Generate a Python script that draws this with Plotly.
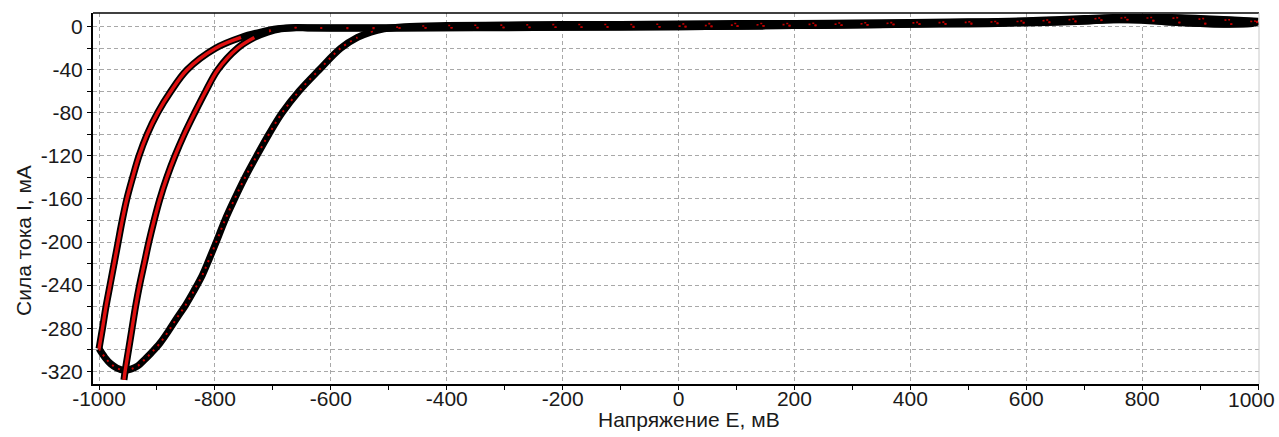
import numpy as np
import plotly.graph_objects as go

# ---------------- data ----------------
# initial anodic sweep 0 -> +1000 mV
e_anodic_0 = [0, 100, 200, 300, 400, 500, 550, 600, 650, 700, 750, 800, 850, 900, 950, 1000]
i_anodic_0 = [0.5, 1.5, 2.0, 2.5, 3.5, 4.0, 4.5, 5.0, 6.0, 7.0, 8.0, 8.0, 8.0, 7.0, 6.0, 4.5]

# cathodic sweep 1 (+1000 -> -1000)
e_cathodic_1 = [1000, 990, 950, 900, 850, 800, 750, 700, 650, 600, 500, 400, 300, 200, 100, 0,
                -100, -200, -300, -400, -500, -600, -640,
                -660, -692, -721, -755, -799, -848, -876, -899, -917, -931, -942, -952,
                -960, -967, -974, -981, -988, -994, -1000]
i_cathodic_1 = [4.5, 3.0, 2.5, 3.0, 4.5, 6.4, 6.4, 5.0, 4.0, 3.5, 2.5, 2.3, 1.5, 1.0, 0.5, 0.0,
                0.0, -0.5, -0.5, -1.0, -1.0, -1.0, -1.0,
                -0.8, -2, -5, -10, -20, -40, -60, -80, -100, -120, -140, -160,
                -180, -200, -220, -240, -260, -280, -299]

# anodic sweep (-1000 -> +1000)
e_anodic_1 = [-1000, -990, -980, -969, -957, -945, -933, -922, -910, -895, -880, -865, -850,
              -836, -822, -810, -797, -783, -767, -749, -728, -707, -684, -655, -620, -583,
              -554, -531, -508, -473, -400,
              -300, -200, -100, 0, 100, 200, 300, 400, 500, 550, 600, 650, 700, 750, 800,
              850, 900, 950, 1000]
i_anodic_1 = [-299, -307, -313, -317, -319, -318, -315, -309.5, -303, -294, -282.5, -270, -258,
              -245, -231, -216, -199, -180, -161, -141, -120, -100, -80, -60, -40, -20,
              -10, -5, -2, 0.0, 1.0,
              1.5, 2.0, 2.0, 2.5, 3.0, 3.0, 3.5, 3.9, 4.5, 4.8, 5.5, 6.5, 7.5, 8.5, 8.5,
              8.5, 7.6, 6.4, 5.0]

# cathodic sweep 2 (+1000 -> -957)
e_cathodic_2 = [1000, 990, 950, 900, 850, 800, 750, 700, 650, 600, 500, 400, 300, 200, 100, 0,
                -100, -200, -300, -400, -500, -600, -640,
                -660, -686, -709, -732, -761, -795, -816, -835, -853, -869, -883, -895,
                -905, -914, -922, -930, -937, -943, -949, -955, -957]
i_cathodic_2 = [5.0, 3.5, 2.3, 3.0, 4.0, 6.0, 6.4, 5.5, 4.5, 3.9, 3.0, 2.3, 1.5, 1.0, 0.5, 0.0,
                -0.5, -0.5, -1.0, -1.0, -1.5, -1.5, -1.2,
                -1.0, -2, -5, -10, -20, -40, -60, -80, -100, -120, -140, -160,
                -180, -200, -220, -240, -260, -280, -300, -320, -328]

x_ticks = [-1000, -800, -600, -400, -200, 0, 200, 400, 600, 800, 1000]
y_ticks = [0, -40, -80, -120, -160, -200, -240, -280, -320]

x_title = "Напряжение E, мВ"
y_title = "Сила тока I, мА"

# ---------------- figure ----------------
fig = go.Figure()

sweeps = [
    (e_anodic_0, i_anodic_0, False),
    (e_cathodic_1, i_cathodic_1, True),
    (e_anodic_1, i_anodic_1, False),
    (e_cathodic_2, i_cathodic_2, True),
]

line_shape = dict(shape="spline", smoothing=1.0)

for e, i, cathodic in sweeps:
    fig.add_trace(go.Scatter(x=e, y=i, mode="lines",
                             line=dict(color="black", width=7, **line_shape),
                             hoverinfo="skip", showlegend=False))

for e, i, cathodic in sweeps:
    e_arr = np.array(e, dtype=float)
    i_arr = np.array(i, dtype=float)
    steep = i_arr < -7
    flat_idx = np.where(~steep)[0]
    steep_idx = np.where(steep)[0]
    if len(steep_idx):
        if cathodic:
            red = dict(color="#e01010", width=3.4, **line_shape)
        else:
            red = dict(color="#d00000", width=2.0, dash="2px,5px", **line_shape)
        fig.add_trace(go.Scatter(x=e_arr[steep_idx], y=i_arr[steep_idx], mode="lines",
                                 line=red, hoverinfo="skip", showlegend=False))
    fig.add_trace(go.Scatter(x=e_arr[flat_idx], y=i_arr[flat_idx], mode="lines",
                             line=dict(color="#c00000", width=1.6, dash="2px,24px",
                                       **line_shape),
                             hoverinfo="skip", showlegend=False))

font_main = dict(family="Liberation Sans, Arial, sans-serif", size=21, color="#1a1a1a")
grid_col = "#a8a8a8"

# last x label is drawn as an annotation pinned to the right edge so it stays inside
x_ticktext = [str(v) for v in x_ticks[:-1]] + [""]
last_x_label = str(x_ticks[-1])

fig.update_layout(
    width=1279, height=437,
    margin=dict(l=93, r=20, t=13, b=53, autoexpand=False),
    paper_bgcolor="white", plot_bgcolor="white",
    font=font_main,
    showlegend=False,
    xaxis=dict(
        range=[-1010.4, 1001.6],
        automargin=False,
        tickmode="array", tickvals=x_ticks, ticktext=x_ticktext,
        showgrid=True, gridcolor=grid_col, gridwidth=1, griddash="4px,3px",
        zeroline=False,
        showline=True, linecolor="black", linewidth=2,
        ticks="outside", ticklen=4, tickwidth=1, tickcolor="black",
        minor=dict(dtick=100, tick0=0, ticks="outside", ticklen=4, tickcolor="black",
                   showgrid=False),
        tickfont=font_main,
        ticklabeloverflow="allow",
        ticklabelstandoff=-9,
    ),
    yaxis=dict(
        range=[-331.8, 12.7],
        automargin=False,
        tickmode="array", tickvals=y_ticks, ticktext=[str(v) for v in y_ticks],
        showgrid=True, gridcolor=grid_col, gridwidth=1, griddash="4px,3px",
        zeroline=False,
        showline=True, linecolor="black", linewidth=2,
        ticks="outside", ticklen=4, tickwidth=1, tickcolor="black",
        minor=dict(dtick=20, tick0=0, ticks="outside", ticklen=4, tickcolor="black",
                   showgrid=True, gridcolor=grid_col, gridwidth=1, griddash="4px,3px"),
        tickfont=font_main,
        ticklabeloverflow="allow",
    ),
    shapes=[
        dict(type="line", xref="paper", yref="paper", x0=0, x1=1, y0=1, y1=1,
             line=dict(color="black", width=1.5)),
        dict(type="line", xref="paper", yref="paper", x0=1, x1=1, y0=0, y1=1,
             line=dict(color="#c8c8c8", width=1)),
    ],
    annotations=[
        dict(text=last_x_label, xref="paper", yref="paper", x=(1277 - 93) / 1166,
             y=(384 - 399) / 371, xanchor="right", yanchor="middle",
             showarrow=False, font=font_main),
        dict(text=x_title, xref="paper", yref="paper", x=(688.5 - 93) / 1166,
             y=(384 - 419) / 371, xanchor="center", yanchor="middle",
             showarrow=False, font=font_main),
        dict(text=y_title, xref="paper", yref="paper", x=(23 - 93) / 1166,
             y=(384 - 241) / 371, xanchor="center", yanchor="middle", textangle=-90,
             showarrow=False, font=font_main),
    ],
)

fig.write_html(
    "out.html",
    config={"displayModeBar": False},
    post_script="document.body.style.margin='0px';document.body.style.overflow='hidden';",
)
